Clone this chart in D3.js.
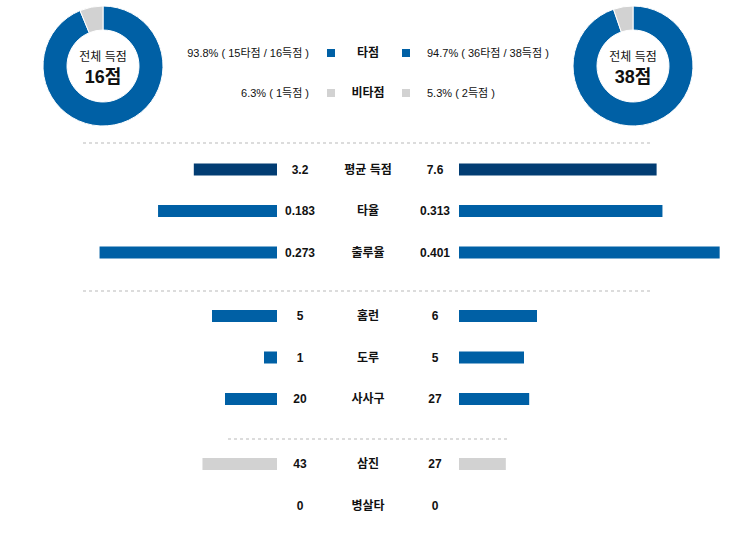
<!DOCTYPE html>
<html>
<head>
<meta charset="utf-8">
<script src="https://cdn.jsdelivr.net/npm/d3@7"></script>
<style>
  html, body { margin: 0; padding: 0; background: #fff; }
  svg { display: block; }
  text { font-family: "Liberation Sans", Arial, "Noto Sans CJK KR", sans-serif; fill: #111; }
</style>
</head>
<body>
<svg id="chart" width="741" height="560"></svg>
<script>
// ---- data ----
const totalRuns = [16, 38];          // 전체 득점 (away, home)
const rbiRuns = [15, 36];            // 타점
const nonRbiRuns = [1, 2];           // 비타점
const legendLabels = ["타점", "비타점"];

const statLabels = ["평균 득점", "타율", "출루율", "홈런", "도루", "사사구", "삼진", "병살타"];
const awayValues = [3.2, 0.183, 0.273, 5, 1, 20, 43, 0];
const homeValues = [7.6, 0.313, 0.401, 6, 5, 27, 27, 0];
const statDecimals = [1, 3, 3, 0, 0, 0, 0, 0];
const statDomainMax = [10, 0.4, 0.4, 20, 20, 100, 150, 150];
const statGroup = [0, 0, 0, 1, 1, 1, 2, 2];

// ---- style ----
const BLUE = "#0060a5";
const DARK = "#023d73";
const GREY = "#d2d2d2";
const barColor = (i) => i === 0 ? DARK : (statGroup[i] === 2 ? GREY : BLUE);

const svg = d3.select("#chart");
const cx = 368;

// ---- donuts ----
const donutCenters = [[103, 66], [633, 66]];
const pie = d3.pie().sort(null).value(d => d);
const arc = d3.arc().innerRadius(36).outerRadius(60);
const sliceColors = [BLUE, GREY];

totalRuns.forEach((tot, t) => {
  const g = svg.append("g").attr("transform", `translate(${donutCenters[t][0]},${donutCenters[t][1]})`);
  g.selectAll("path").data(pie([rbiRuns[t], nonRbiRuns[t]])).join("path")
    .attr("d", arc)
    .attr("fill", (d, i) => sliceColors[i])
    .attr("stroke", "#fff").attr("stroke-width", 1);
  g.append("text").attr("text-anchor", "middle").attr("y", -5)
    .style("font-size", "12px").text("전체 득점");
  g.append("text").attr("text-anchor", "middle").attr("y", 17)
    .style("font-size", "18px").style("font-weight", "bold").text(tot + "점");
});

// ---- legend ----
const legendRows = [
  { label: legendLabels[0], vals: rbiRuns, color: BLUE, y: 53, fmt: (v, t) => `${(v / totalRuns[t] * 100).toFixed(1)}% ( ${v}타점 / ${totalRuns[t]}득점 )` },
  { label: legendLabels[1], vals: nonRbiRuns, color: GREY, y: 93, fmt: (v, t) => `${(v / totalRuns[t] * 100).toFixed(1)}% ( ${v}득점 )` }
];
legendRows.forEach(r => {
  const g = svg.append("g");
  g.append("text").attr("x", 309).attr("y", r.y).attr("dy", "0.35em").attr("text-anchor", "end")
    .style("font-size", "11px").text(r.fmt(r.vals[0], 0));
  g.append("rect").attr("x", 327).attr("y", r.y - 4).attr("width", 8).attr("height", 8).attr("fill", r.color);
  g.append("text").attr("x", cx).attr("y", r.y).attr("dy", "0.35em").attr("text-anchor", "middle")
    .style("font-size", "12px").style("font-weight", "bold").text(r.label);
  g.append("rect").attr("x", 402).attr("y", r.y - 4).attr("width", 8).attr("height", 8).attr("fill", r.color);
  g.append("text").attr("x", 427).attr("y", r.y).attr("dy", "0.35em").attr("text-anchor", "start")
    .style("font-size", "11px").text(r.fmt(r.vals[1], 1));
});

// ---- separators ----
const separators = [[83, 651, 143], [83, 651, 291], [228, 507, 439]];
separators.forEach(s => {
  svg.append("line").attr("x1", s[0]).attr("x2", s[1]).attr("y1", s[2]).attr("y2", s[2])
    .attr("stroke", "#dcdcdc").attr("stroke-width", 2).attr("stroke-dasharray", "3,3");
});

// ---- stat rows ----
const groupStartY = [169.5, 316, 464];
const rowGap = 41.5;
const leftEdge = 277, rightEdge = 459, barMax = 260, barH = 12;
const rowY = statLabels.map((_, i) => {
  const g = statGroup[i];
  const first = statGroup.indexOf(g);
  return groupStartY[g] + (i - first) * rowGap;
});

statLabels.forEach((lab, i) => {
  const x = d3.scaleLinear().domain([0, statDomainMax[i]]).range([0, barMax]);
  const y = rowY[i];
  const g = svg.append("g");
  const wa = x(awayValues[i]), wh = x(homeValues[i]);
  if (wa > 0) g.append("rect").attr("x", leftEdge - wa).attr("y", y - barH / 2).attr("width", wa).attr("height", barH).attr("fill", barColor(i));
  if (wh > 0) g.append("rect").attr("x", rightEdge).attr("y", y - barH / 2).attr("width", wh).attr("height", barH).attr("fill", barColor(i));
  g.append("text").attr("x", 300).attr("y", y).attr("dy", "0.35em").attr("text-anchor", "middle")
    .style("font-size", "12px").style("font-weight", "bold").text(awayValues[i].toFixed(statDecimals[i]));
  g.append("text").attr("x", cx).attr("y", y).attr("dy", "0.35em").attr("text-anchor", "middle")
    .style("font-size", "12px").style("font-weight", "bold").text(lab);
  g.append("text").attr("x", 435).attr("y", y).attr("dy", "0.35em").attr("text-anchor", "middle")
    .style("font-size", "12px").style("font-weight", "bold").text(homeValues[i].toFixed(statDecimals[i]));
});
</script>
</body>
</html>
